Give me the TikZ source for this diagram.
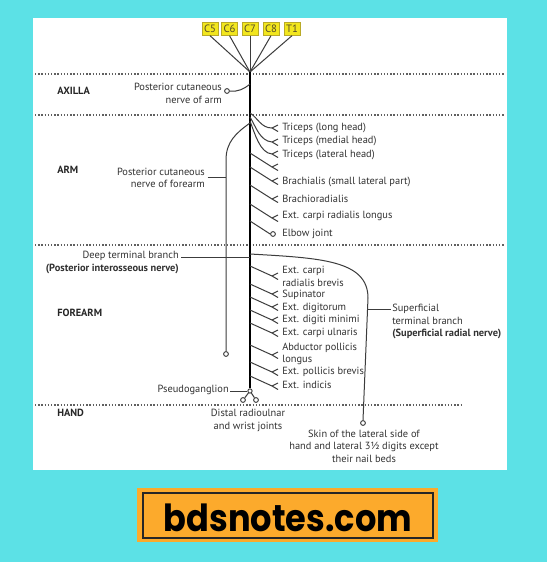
\documentclass[tikz,border=0pt]{standalone}
\usepackage{fontspec}
\setmainfont{PT Sans}
\newfontfamily\bannerfont{Poppins}
\usetikzlibrary{calc}
\definecolor{bgcyan}{RGB}{92,225,230}
\definecolor{orng}{RGB}{252,170,44}
\definecolor{ylw}{RGB}{242,230,30}
\definecolor{ylwd}{RGB}{185,170,40}
\definecolor{ylwt}{RGB}{85,75,40}
\definecolor{txt}{RGB}{50,50,50}
\definecolor{nrv}{RGB}{60,60,60}
\tikzset{
  region/.style={font=\fontsize{7.8}{9}\selectfont\bfseries, text=black!85, anchor=west, inner sep=0pt},
  lbl/.style={anchor=west, inner sep=0pt, text=txt},
  root/.style={draw=ylwd, fill=ylw, line width=0.5pt, minimum width=12pt, minimum height=9.5pt, inner sep=0.5pt, text=ylwt, font=\fontsize{8}{9}\selectfont},
  nerve/.style={draw=nrv, line width=0.75pt},
  trunk/.style={draw=black, line width=1.9pt},
  zone/.style={draw=gray!75!black, line width=0.9pt, dash pattern=on 1pt off 1.4pt},
  endo/.style={circle, draw=nrv, line width=0.7pt, fill=white, inner sep=0pt, minimum size=3.6pt},
  fork/.pic={\draw[nerve] (0,0) -- (6,-3) (0,0) -- (6,3.5);}
}
\begin{document}
\begin{tikzpicture}[x=0.75pt,y=-0.75pt,font=\fontsize{7.8}{9.4}\selectfont]
\fill[bgcyan] (0,0) rectangle (547,562);
\fill[white] (33,18) rectangle (507,470);
\useasboundingbox (0,0) rectangle (547,562);

% zone separators
\draw[zone] (35,74) -- (505,74);
\draw[zone] (35,115) -- (505,115);
\draw[zone] (35,245) -- (505,245);
\draw[zone] (35,405) -- (462,405);

% region labels
\node[region] (axilla) at (57,91) {AXILLA};
\node[region] (arm) at (57,170) {ARM};
\node[region] (forearm) at (57,313) {FOREARM};
\node[region] (hand) at (57,413) {HAND};

% roots
\node[root] (c5) at (210,29) {C5};
\node[root] (c6) at (229.5,29) {C6};
\node[root] (c7) at (250,29) {C7};
\node[root] (c8) at (271,29) {C8};
\node[root] (t1) at (292,29) {T1};
\coordinate (plexus) at (250,72);
\foreach \r in {c5,c6,c7,c8,t1} \draw[nerve] (\r.south) -- (plexus);

% pseudoganglion knot and trunk
\node[endo, minimum size=3.2pt] (knotc) at (250,391) {};
\draw[trunk] (plexus) -- (knotc.north);

% posterior cutaneous nerve of arm
\node[endo] (pcna) at (227,91) {};
\coordinate (tpcna) at (250,84);
\draw[nerve] (pcna.east) .. controls (238,92) and (244,89) .. (tpcna);
\node[lbl, anchor=east, align=right] (pcnaL) at (222,93.5) {Posterior cutaneous\\nerve of arm};

% triceps branches (curved)
\coordinate (tr1s) at (250,113); \coordinate (tr1) at (272,128);
\coordinate (tr2s) at (250,117); \coordinate (tr2) at (272,142);
\coordinate (tr3s) at (250,121); \coordinate (tr3) at (272,154);
\draw[nerve] (tr1s) .. controls (258,118) and (261,128) .. (tr1);
\draw[nerve] (tr2s) .. controls (256,127) and (260,141) .. (tr2);
\draw[nerve] (tr3s) .. controls (255,134) and (260,153) .. (tr3);
\foreach \c in {tr1,tr2,tr3} \pic at (\c) {fork};

% straight arm branches
\foreach \n/\fy in {a4/167,a5/181,a6/199,a7/218} {
  \coordinate (s\n) at (250,\fy-14);
  \coordinate (\n) at (272,\fy);
  \draw[nerve] (s\n) -- (\n);
  \pic at (\n) {fork};
}
\node[endo] (elbow) at (273,234) {};
\coordinate (selbow) at (250,221);
\draw[nerve] (selbow) -- (elbow.west);

\node[lbl] (l1) at (282,128) {Triceps (long head)};
\node[lbl] (l2) at (282,141) {Triceps (medial head)};
\node[lbl] (l3) at (282,155) {Triceps (lateral head)};
\node[lbl] (l5) at (282,182) {Brachialis (small lateral part)};
\node[lbl] (l6) at (282,199) {Brachioradialis};
\node[lbl] (l7) at (282,216) {Ext. carpi radialis longus};
\node[lbl] (l8) at (282,234) {Elbow joint};

% posterior cutaneous nerve of forearm
\coordinate (tpcnf) at (250,123);
\node[endo] (pcnf) at (226,354) {};
\draw[nerve] (tpcnf) .. controls (236,133) and (226,142) .. (226,160) -- (pcnf.north);
\node[lbl, anchor=east, align=right] (pcnfL) at (205,178) {Posterior cutaneous\\nerve of forearm};
\coordinate (pcnfT) at (226,177);
\draw[nerve] ([xshift=2pt]pcnfL.east |- pcnfT) -- (pcnfT);

% deep terminal branch
\node[lbl, anchor=east, align=right] (deepL) at (179,262.5) {Deep terminal branch\\\textbf{(Posterior interosseous nerve)}};
\coordinate (deepS) at (181,257);
\coordinate (deepT) at (250,257);
\draw[nerve] (deepS) -- (deepT);

% superficial terminal branch
\coordinate (supS) at (250,254);
\node[endo] (skin) at (363,423) {};
\draw[nerve] (supS) .. controls (320,258) and (368,260) .. (368,298) -- (skin.north);
\node[lbl, align=left] (supL) at (392,321.5) {Superficial\\terminal branch\\\textbf{(Superficial radial nerve)}};
\coordinate (supT) at (367.6,309);
\draw[nerve] (supT) -- ([xshift=-1pt]supT -| supL.west);

% forearm branches
\foreach \n/\fy in {f1/276,f2/294,f3/307,f4/320,f5/333,f6/355,f7/372,f8/386} {
  \coordinate (s\n) at (250,\fy-10);
  \coordinate (\n) at (272,\fy);
  \draw[nerve] (s\n) -- (\n);
  \pic at (\n) {fork};
}
\node[lbl, align=left] (m1) at (282,276.5) {Ext. carpi\\radialis brevis};
\node[lbl] (m2) at (282,295) {Supinator};
\node[lbl] (m3) at (282,308) {Ext. digitorum};
\node[lbl] (m4) at (282,320) {Ext. digiti minimi};
\node[lbl] (m5) at (282,333) {Ext. carpi ulnaris};
\node[lbl, align=left] (m6) at (282,354) {Abductor pollicis\\longus};
\node[lbl] (m7) at (282,372) {Ext. pollicis brevis};
\node[lbl] (m8) at (282,385) {Ext. indicis};

% pseudoganglion and joints
\node[endo] (drj1) at (243,400) {};
\node[endo] (drj2) at (256,400) {};
\draw[nerve] (knotc) -- (drj1);
\draw[nerve] (knotc) -- (drj2);
\node[lbl, anchor=east] (pgL) at (229,390) {Pseudoganglion};
\draw[nerve] ([xshift=1pt]pgL.east |- knotc) -- (knotc.west);
\node[lbl, anchor=center, align=center] (distL) at (248,420.5) {Distal radioulnar\\and wrist joints};
\node[lbl, anchor=center, align=center] (skinL) at (364,446) {Skin of the lateral side of\\hand and lateral 3½ digits except\\their nail beds};

% banner
\fill[orng] (137,488) rectangle (438,542);
\draw[black!85, line width=0.8pt] (143,493) rectangle (433,538);
\node[font=\bannerfont\bfseries\fontsize{28}{30}\selectfont, anchor=base, inner sep=0pt] (site) at (288,531) {\scalebox{0.9}[1]{bdsnotes.com}};
\end{tikzpicture}
\end{document}
